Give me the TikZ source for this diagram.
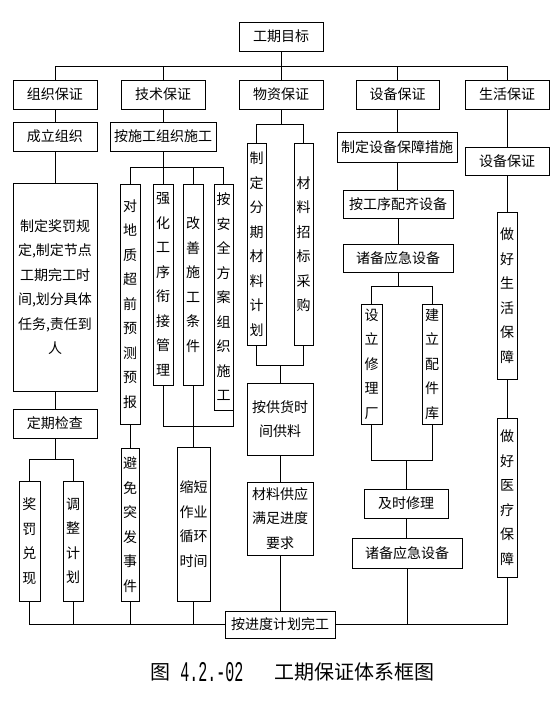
\documentclass[tikz,border=0pt]{standalone}
\usepackage{fontspec}
\setmainfont{Noto Sans CJK SC}
\newfontfamily\monof{Liberation Mono}
\tikzset{
  box/.style={draw, line width=1pt, inner sep=0pt, align=center,
    font=\fontsize{14}{24.5}\selectfont},
  ln/.style={line width=1pt},
  captxt/.style={inner sep=0pt, font=\fontsize{20}{20}\selectfont},
}
\newcommand\bx[6]{%
  \pgfmathsetmacro\bxcx{(#2+#4)/2}%
  \pgfmathsetmacro\bxcy{(#3+#5)/2}%
  \pgfmathsetmacro\bxw{#4-#2}%
  \pgfmathsetmacro\bxh{#5-#3}%
  \node[box, minimum width=\bxw pt, minimum height=\bxh pt] (#1) at (\bxcx,\bxcy) {#6};}
\begin{document}
\begin{tikzpicture}[x=1pt,y=-1pt]
\useasboundingbox[fill=white] (0,0) rectangle (554,718);
% top
\bx{goal}{239}{22}{323}{51}{工期目标}
\bx{org}{13}{80}{97}{109}{组织保证}
\bx{tech}{121}{80}{205}{109}{技术保证}
\bx{mat}{239}{80}{323}{109}{物资保证}
\bx{equip}{356}{80}{439}{109}{设备保证}
\bx{live}{465}{80}{549}{109}{生活保证}
% organisation column
\bx{setup}{13}{122}{97}{151}{成立组织}
\bx{rules}{13}{183}{97}{391}{制定奖罚规\\定,制定节点\\工期完工时\\间,划分具体\\任务,责任到\\人}
\bx{check}{13}{409}{97}{438}{定期检查}
\bx{jiang}{19}{481}{40}{601}{奖\\罚\\兑\\现}
\bx{tiao}{63}{481}{83}{601}{调\\整\\计\\划}
% technical column
\bx{plan}{110}{122}{216}{151}{按施工组织施工}
\bx{v1}{120}{184}{140}{424}{对\\地\\质\\超\\前\\预\\测\\预\\报}
\bx{v2}{153}{184}{173}{385}{强\\化\\工\\序\\衔\\接\\管\\理}
\bx{v3}{183}{184}{203}{385}{改\\善\\施\\工\\条\\件}
\bx{v4}{214}{184}{233}{410}{按\\安\\全\\方\\案\\组\\织\\施\\工}
\bx{avoid}{121}{448}{139}{601}{避\\免\\突\\发\\事\\件}
\bx{short}{177}{447}{210}{601}{缩短\\作业\\循环\\时间}
% material column
\bx{m1}{247}{143}{266}{345}{制\\定\\分\\期\\材\\料\\计\\划}
\bx{m2}{294}{143}{313}{345}{材\\料\\招\\标\\采\\购}
\bx{m3}{247}{383}{313}{455}{按供货时\\间供料}
\bx{m4}{247}{482}{313}{555}{材料供应\\满足进度\\要求}
% equipment column
\bx{e1}{337}{132}{457}{162}{制定设备保障措施}
\bx{e2}{343}{190}{453}{218}{按工序配齐设备}
\bx{e3}{343}{244}{453}{272}{诸备应急设备}
\bx{e4}{361}{304}{382}{424}{设\\立\\修\\理\\厂}
\bx{e5}{422}{304}{442}{424}{建\\立\\配\\件\\库}
\bx{e6}{364}{489}{448}{518}{及时修理}
\bx{e7}{352}{538}{462}{568}{诸备应急设备}
% living column
\bx{l1}{465}{147}{549}{175}{设备保证}
\bx{l2}{497}{212}{517}{379}{做\\好\\生\\活\\保\\障}
\bx{l3}{497}{418}{517}{577}{做\\好\\医\\疗\\保\\障}
% final
\bx{final}{225}{611}{335}{638}{按进度计划完工}
% caption
\node[captxt] (cap1) at (160,672) {图};
\node[inner sep=0pt] (cap2) at (212,672) {\scalebox{1}[1.9]{\monof\fontsize{15}{15}\selectfont 4.2.-02}};
\node[captxt] (cap3) at (354,672) {工期保证体系框图};

% ---- connectors ----
\coordinate (busT) at (0,66);
\draw[ln] (goal.south) -- (goal.south |- busT);
\draw[ln] (org.north |- busT) -- (live.north |- busT);
\foreach \n in {org,tech,mat,equip,live} \draw[ln] (\n.north) -- (\n.north |- busT);
% organisation
\draw[ln] (org.south) -- (setup.north);
\draw[ln] (setup.south) -- (rules.north);
\draw[ln] (rules.south) -- (check.north);
\coordinate (jO) at (0,459);
\draw[ln] (check.south) -- (check.south |- jO);
\draw[ln] (jiang.north) -- (jiang.north |- jO) -- (tiao.north |- jO) -- (tiao.north);
% technical
\draw[ln] (tech.south) -- (plan.north);
\coordinate (jT1) at (0,167);
\draw[ln] (plan.south) -- (plan.south |- jT1);
\draw[ln] (v1.north |- jT1) -- (v4.north |- jT1);
\foreach \n in {v1,v2,v3,v4} \draw[ln] (\n.north |- jT1) -- (\n.north);
\draw[ln] (v1.south) -- (v1.south |- avoid.north);
\coordinate (jT2) at (0,426);
\draw[ln] (v2.south) -- (v2.south |- jT2) -- (v4.south east |- jT2) -- (v4.south east);
\draw[ln] (v3.south) -- (v3.south |- short.north);
% material
\coordinate (jM1) at (0,124);
\draw[ln] (mat.south) -- (mat.south |- jM1);
\draw[ln] (m1.north) -- (m1.north |- jM1) -- (m2.north |- jM1) -- (m2.north);
\coordinate (jM2) at (0,365);
\draw[ln] (m1.south) -- (m1.south |- jM2) -- (m2.south |- jM2) -- (m2.south);
\draw[ln] (m3.north |- jM2) -- (m3.north);
\draw[ln] (m3.south) -- (m4.north);
\draw[ln] (m4.south) -- (final.north);
% equipment
\draw[ln] (equip.south) -- (equip.south |- e1.north);
\draw[ln] (e1.south) -- (e1.south |- e2.north);
\draw[ln] (e2.south) -- (e2.south |- e3.north);
\coordinate (jE1) at (0,286);
\draw[ln] (e3.south) -- (e3.south |- jE1);
\draw[ln] (e4.north) -- (e4.north |- jE1) -- (e5.north |- jE1) -- (e5.north);
\coordinate (jE2) at (0,460);
\draw[ln] (e4.south) -- (e4.south |- jE2) -- (e5.south |- jE2) -- (e5.south);
\draw[ln] (e6.north |- jE2) -- (e6.north);
\draw[ln] (e6.south) -- (e6.south |- e7.north);
\draw[ln] (e7.south) -- (e7.south |- final.east);
% living
\draw[ln] (live.south) -- (l1.north);
\draw[ln] (l1.south) -- (l2.north);
\draw[ln] (l2.south) -- (l3.north);
\draw[ln] (l3.south) -- (l3.south |- final.east);
% bottom bus
\draw[ln] (jiang.south) -- (jiang.south |- final.west) -- (final.west);
\foreach \n in {tiao,avoid,short} \draw[ln] (\n.south) -- (\n.south |- final.west);
\draw[ln] (final.east) -- (l3.south |- final.east);
\end{tikzpicture}
\end{document}
